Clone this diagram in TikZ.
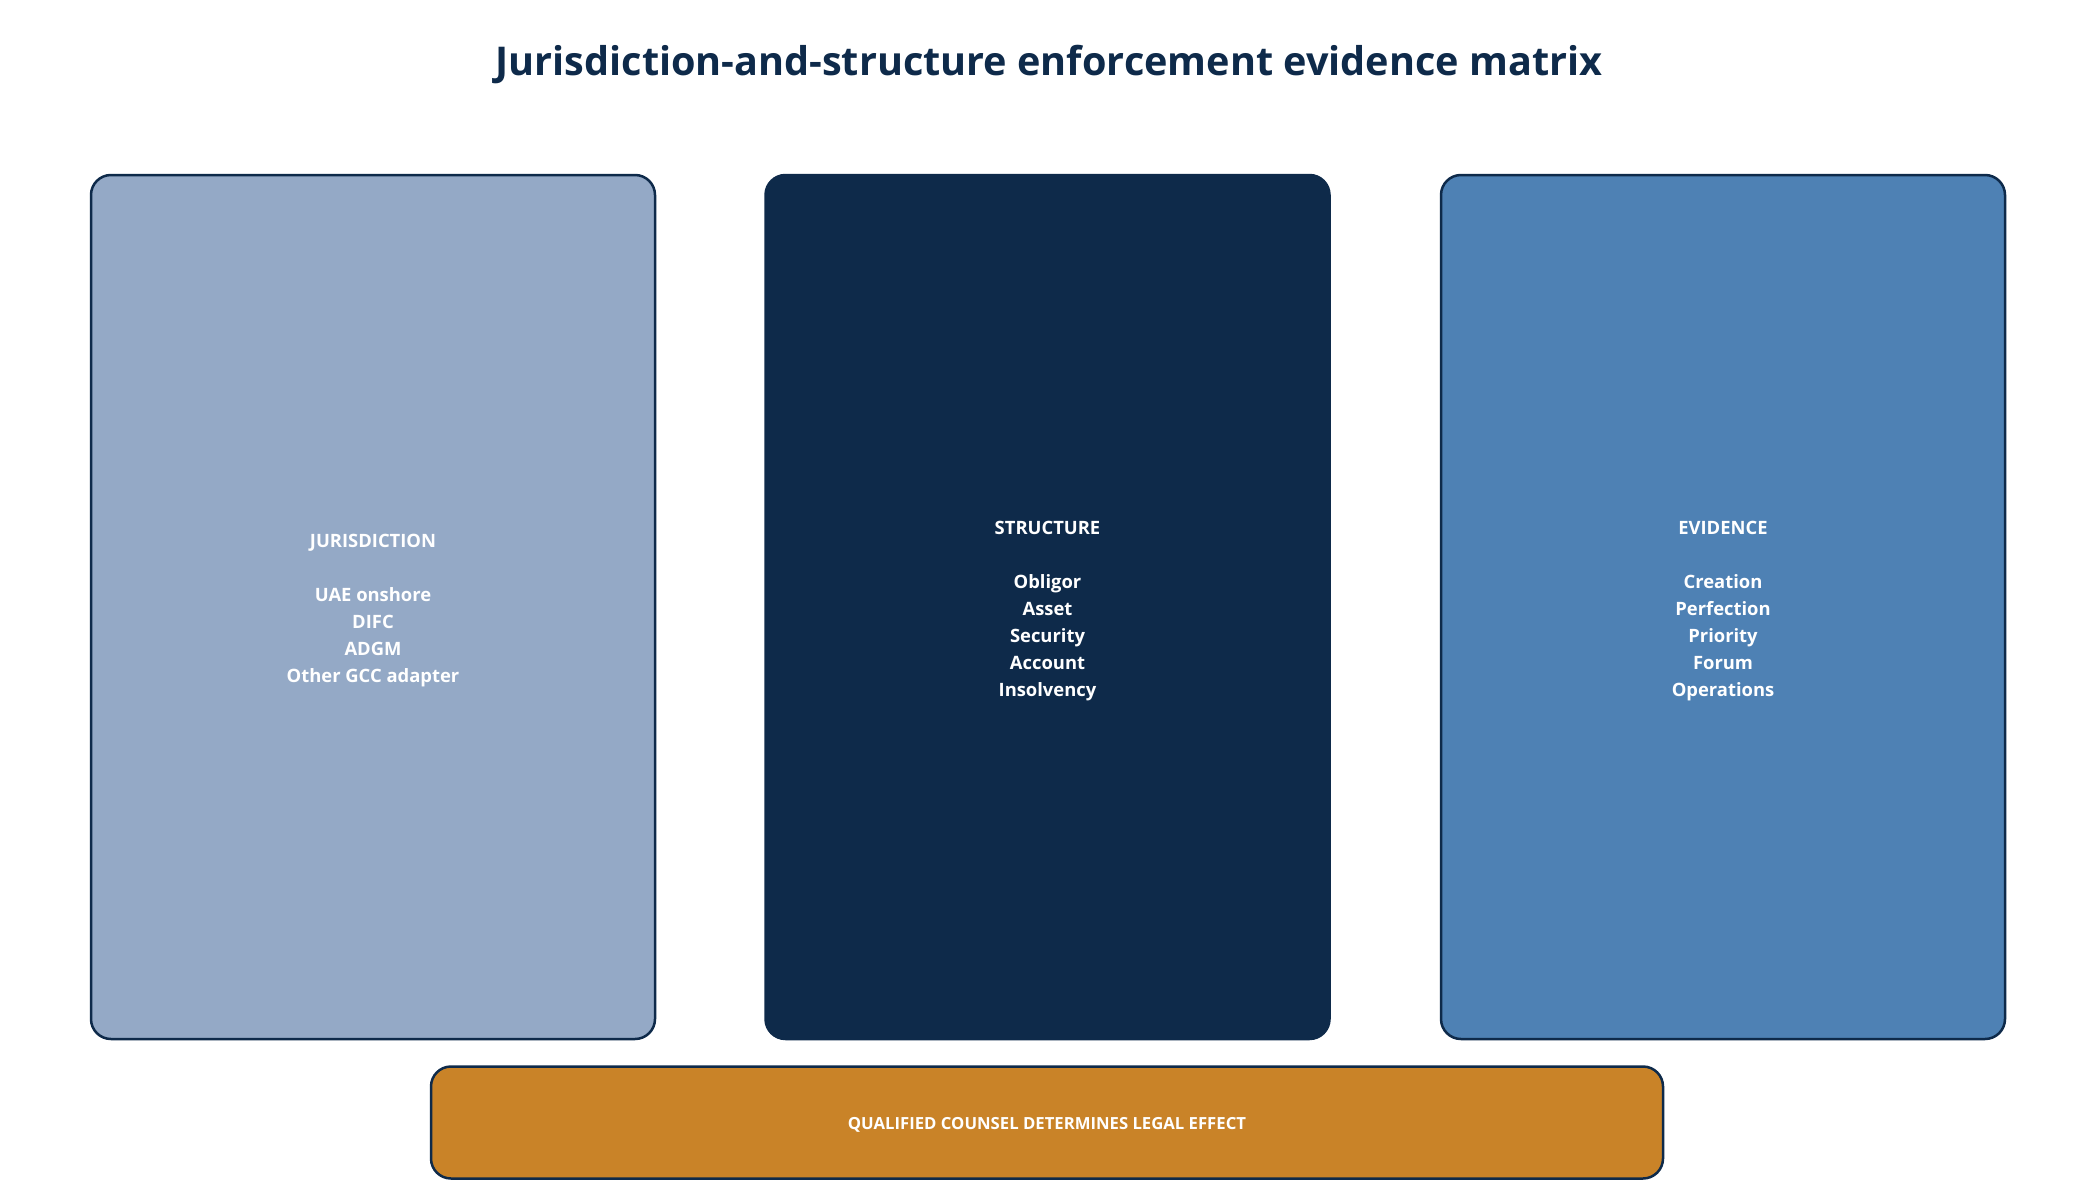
\documentclass[tikz,border=0pt]{standalone}
\usepackage{fontspec}
\setmainfont{Open Sans}
\definecolor{navy}{HTML}{0E2A4A}
\definecolor{lightblue}{HTML}{94A9C6}
\definecolor{midblue}{HTML}{4E81B4}
\definecolor{ochre}{HTML}{C98328}
\begin{document}
\begin{tikzpicture}[x=1pt,y=-1pt,
  colbox/.style={draw=navy, line width=2.5pt, rounded corners=20pt,
    minimum width=564pt, minimum height=864pt, inner sep=0pt},
  coltext/.style={text=white, align=center, inner sep=0pt,
    font=\bfseries\fontsize{18.4}{27}\selectfont},
  notebox/.style={draw=navy, line width=2.5pt, rounded corners=20pt,
    fill=ochre, minimum width=1232pt, minimum height=112pt, inner sep=0pt},
  notetext/.style={text=white, inner sep=0pt, font=\bfseries\fontsize{16.7}{20}\selectfont},
  titletext/.style={text=navy, font=\bfseries\fontsize{39.6}{48}\selectfont, inner sep=0pt}]
\useasboundingbox (0,0) rectangle (2100,1180);
\fill[white] (0,0) rectangle (2100,1180);
\node[titletext, anchor=base] (title) at (1049,76) {Jurisdiction-and-structure enforcement evidence matrix};
\node[colbox, fill=lightblue] (jur) at (373,607) {};
\node[colbox, fill=navy] (str) at (1047.5,607) {};
\node[colbox, fill=midblue] (evi) at (1723,607) {};
\node[coltext] (jurtext) at ([yshift=-4pt]jur.center)
  {JURISDICTION\\[27pt]UAE onshore\\DIFC\\ADGM\\Other GCC adapter};
\node[coltext] (strtext) at ([yshift=-4pt]str.center)
  {STRUCTURE\\[27pt]Obligor\\Asset\\Security\\Account\\Insolvency};
\node[coltext] (evitext) at ([yshift=-4pt]evi.center)
  {EVIDENCE\\[27pt]Creation\\Perfection\\Priority\\Forum\\Operations};
\node[notebox] (note) at (1047,1122.5) {};
\node[notetext] (notelabel) at ([yshift=-2pt]note.center) {QUALIFIED COUNSEL DETERMINES LEGAL EFFECT};
\end{tikzpicture}
\end{document}
